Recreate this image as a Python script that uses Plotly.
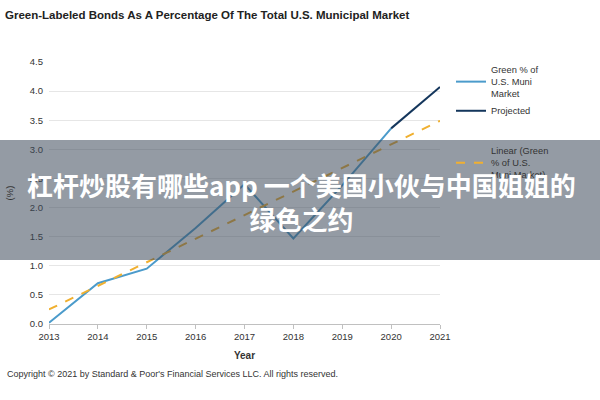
import plotly.graph_objects as go

years = [2013, 2014, 2015, 2016, 2017, 2018, 2019, 2020]
green_pct = [0.02, 0.70, 0.95, 1.65, 2.40, 1.47, 2.38, 3.36]
proj_years = [2020, 2021]
proj_pct = [3.36, 4.07]
trend_years = [2013, 2021]
trend_pct = [0.25, 3.49]
x_ticks = [2013, 2014, 2015, 2016, 2017, 2018, 2019, 2020, 2021]
y_ticks = [0.0, 0.5, 1.0, 1.5, 2.0, 2.5, 3.0, 3.5, 4.0, 4.5]

NARROW = "Liberation Sans Narrow, Arial Narrow, Liberation Sans, Arial"

fig = go.Figure()
fig.add_trace(go.Scatter(x=years, y=green_pct, mode="lines",
                         line=dict(color="#4b9bcb", width=2),
                         name="Green % of<br>U.S. Muni<br>Market", legend="legend"))
fig.add_trace(go.Scatter(x=proj_years, y=proj_pct, mode="lines",
                         line=dict(color="#14365c", width=2),
                         name="Projected", legend="legend"))
fig.add_trace(go.Scatter(x=trend_years, y=trend_pct, mode="lines",
                         line=dict(color="#f0b030", width=2, dash="dash"),
                         name="Linear (Green<br>% of U.S.<br>Muni Market)", legend="legend2"))

L, R, T, B = 49, 160, 62, 76
pw = 600 - L - R
ph = 400 - T - B

def px_x(x):
    return (x - L) / pw

def px_y(y):
    return (400 - B - y) / ph

fig.update_layout(
    width=600, height=400,
    margin=dict(l=L, r=R, t=T, b=B),
    paper_bgcolor="white", plot_bgcolor="white",
    font=dict(family=NARROW, size=10, color="#333333"),
    showlegend=True,
    legend=dict(x=px_x(451), y=px_y(57), xanchor="left", yanchor="top",
                font=dict(family=NARROW, size=9.3, color="#333333"),
                bgcolor="rgba(0,0,0,0)", tracegroupgap=0, itemwidth=30),
    legend2=dict(x=px_x(451), y=px_y(138), xanchor="left", yanchor="top",
                 font=dict(family=NARROW, size=9.3, color="#333333"),
                 bgcolor="rgba(0,0,0,0)", itemwidth=30),
    xaxis=dict(range=[2013, 2021], tickvals=x_ticks, ticktext=[str(v) for v in x_ticks],
               showgrid=False, showline=True, linecolor="#c0c0c0", linewidth=1,
               ticks="outside", ticklen=4, tickcolor="#c0c0c0", automargin=False,
               tickfont=dict(family=NARROW, size=9.5, color="#333333"),
               title=dict(text="<b>Year</b>", font=dict(family=NARROW, size=10, color="#333333"), standoff=10),
               zeroline=False),
    yaxis=dict(range=[0, 4.5], tickvals=y_ticks, ticktext=[f"{v:.1f}" for v in y_ticks],
               showgrid=True, gridcolor="#e6e6e6", gridwidth=1, automargin=False,
               showline=False, zeroline=False, ticks="", ticklabelstandoff=5,
               tickfont=dict(family=NARROW, size=9.5, color="#333333"),
               title=dict(text="(%)", font=dict(family=NARROW, size=9.5, color="#333333"), standoff=14)),
    title=dict(text="<b>Green-Labeled Bonds As A Percentage Of The Total U.S. Municipal Market</b>",
               x=5 / 600, xanchor="left", y=1 - 15 / 400, yanchor="middle",
               font=dict(family=NARROW, size=11.5, color="#222222")),
    shapes=[dict(type="rect", xref="paper", yref="paper",
                 x0=px_x(0), x1=px_x(600), y0=px_y(260), y1=px_y(140),
                 fillcolor="rgba(60,72,90,0.55)", line=dict(width=0), layer="above")],
    annotations=[
        dict(text="Copyright © 2021 by Standard &amp; Poor's Financial Services LLC. All rights reserved.",
             xref="paper", yref="paper", x=px_x(5), y=px_y(374), xanchor="left", yanchor="middle",
             showarrow=False, font=dict(family=NARROW, size=9, color="#333333")),
        dict(text="<b>杠杆炒股有哪些app 一个美国小伙与中国姐姐的<br>绿色之约</b>",
             xref="paper", yref="paper", x=px_x(301), y=px_y(201), xanchor="center", yanchor="middle",
             showarrow=False, align="center",
             font=dict(family="Noto Sans CJK SC", size=26, color="white")),
    ],
)

fig.write_html("out.html")
